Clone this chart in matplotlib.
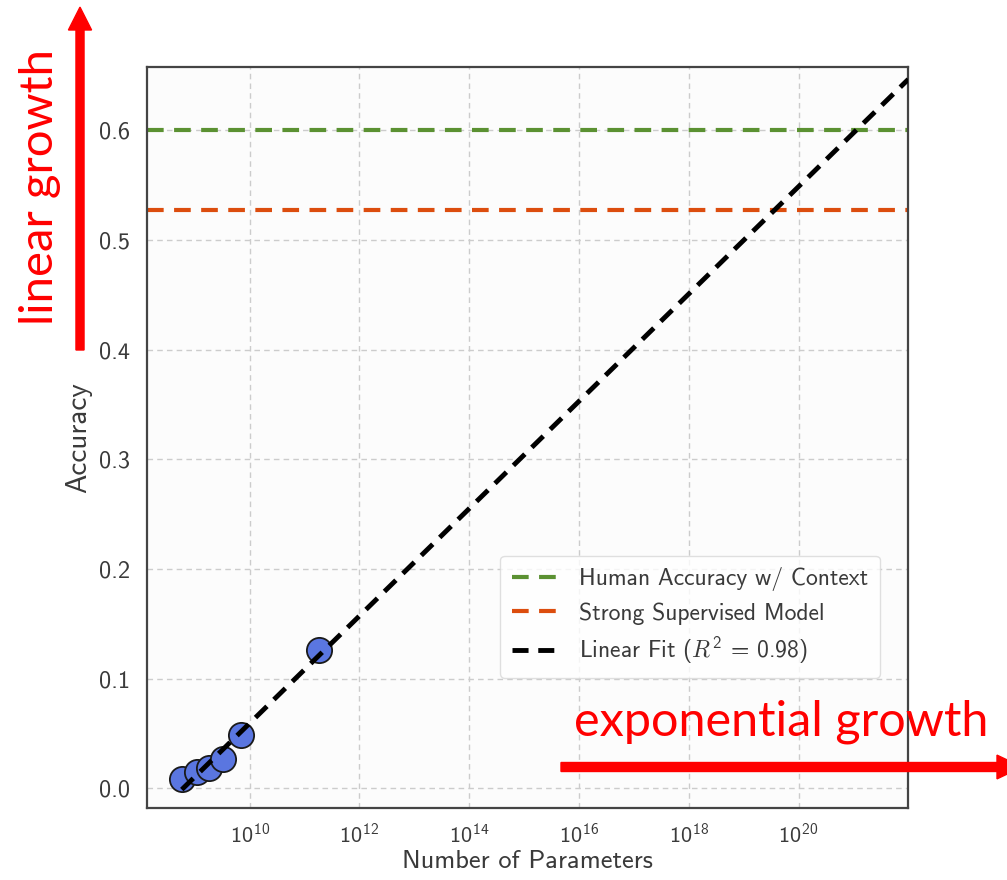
import matplotlib
matplotlib.use("Agg")
import matplotlib.pyplot as plt
from matplotlib.patches import FancyArrow
from matplotlib.ticker import FixedLocator, LogFormatterSciNotation, NullLocator
import numpy as np

# data
n_params = [5.8e8, 1.12e9, 1.78e9, 3.2e9, 7.1e9, 1.86e11]
accuracy = [0.008, 0.015, 0.018, 0.027, 0.048, 0.126]
human_acc = 0.600
supervised_acc = 0.527
x_max = 1e22

plt.rcParams["font.family"] = "cmss10"
plt.rcParams["mathtext.fontset"] = "custom"
plt.rcParams["mathtext.rm"] = "cmss10"
plt.rcParams["mathtext.it"] = "cmmi10"
plt.rcParams["mathtext.cal"] = "cmsy10"
plt.rcParams["axes.unicode_minus"] = False

fig = plt.figure(figsize=(10.07, 8.8), dpi=100)
ax = fig.add_axes([0.146, 0.082, 0.756, 0.842])
ax.set_facecolor("#fcfcfc")

ax.axhline(human_acc, color="#5b9132", lw=3, ls=(0, (4, 2.5)), label="Human Accuracy w/ Context", zorder=2)
ax.axhline(supervised_acc, color="#dc4d0e", lw=3, ls=(0, (4, 2.5)), label="Strong Supervised Model", zorder=2)

logx = np.log10(n_params)
slope, intercept = np.polyfit(logx, accuracy, 1)
fit_x = np.array([logx[0], np.log10(x_max)])
ax.plot(10 ** fit_x, slope * fit_x + intercept, color="black", lw=3.5, ls=(0, (3.3, 2)),
        label="Linear Fit ($R^2$ = 0.98)", zorder=4)

ax.scatter(n_params, accuracy, s=330, color="#5a76e0", edgecolor="#1a1a1a", lw=1.3, zorder=3)

ax.set_xscale("log")
ax.set_xlim(10 ** 8.13, x_max)
ax.set_ylim(-0.018, 0.658)
ax.xaxis.set_major_locator(FixedLocator([1e10, 1e12, 1e14, 1e16, 1e18, 1e20]))
ax.xaxis.set_major_formatter(LogFormatterSciNotation())
ax.xaxis.set_minor_locator(NullLocator())
ax.set_yticks([0.0, 0.1, 0.2, 0.3, 0.4, 0.5, 0.6])
ax.set_yticklabels(["0.0", "0.1", "0.2", "0.3", "0.4", "0.5", "0.6"])
ax.tick_params(axis="x", length=0, labelsize=16, labelcolor="#3a3a3a", pad=11)
ax.tick_params(axis="y", length=0, labelsize=17.5, labelcolor="#3a3a3a", pad=12)
ax.grid(True, color="#cccccc", ls=(0, (4, 3)), lw=1)
for s in ax.spines.values():
    s.set_color("#444444")
    s.set_linewidth(1.6)

ax.set_xlabel("Number of Parameters", fontsize=19, color="#3a3a3a", labelpad=2)
ax.set_ylabel("Accuracy", fontsize=21, color="#3a3a3a", labelpad=5)

leg = ax.legend(loc="lower right", bbox_to_anchor=(0.963, 0.175), fontsize=17, frameon=True,
                fancybox=True, handlelength=2.0, handletextpad=0.85, borderpad=0.5,
                labelspacing=0.45, borderaxespad=0)
leg.get_frame().set_edgecolor("#d8d8d8")
leg.get_frame().set_facecolor("white")
for t in leg.get_texts():
    t.set_color("#3a3a3a")

# red annotations drawn over the figure
fig.text(0.040, 0.787, "linear growth", rotation=90, color="red", fontsize=34,
         family="Lato", ha="center", va="center")
fig.patches.append(FancyArrow(
    80 / 1007, 1 - 350 / 880, 0, 320 / 880, width=0.008, head_width=0.023,
    head_length=0.026, length_includes_head=False, color="red", transform=fig.transFigure, figure=fig))
fig.text(0.776, 1 - 722 / 880, "exponential growth", color="red", fontsize=35,
         family="Lato", ha="center", va="center")
fig.patches.append(FancyArrow(
    561 / 1007, 1 - 767 / 880, (997 - 561) / 1007, 0, width=0.0102, head_width=0.027,
    head_length=0.025, length_includes_head=False, color="red", transform=fig.transFigure, figure=fig))

fig.savefig("out.png", dpi=100)
